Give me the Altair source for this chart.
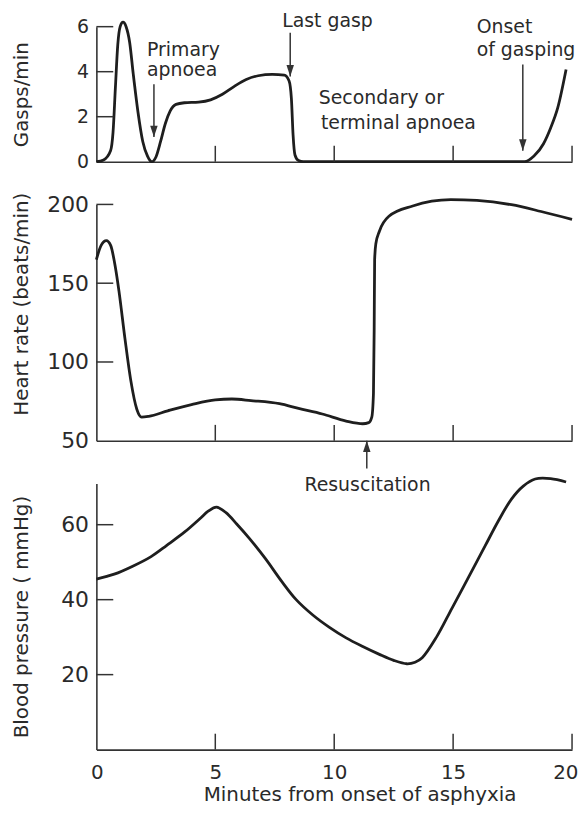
import altair as alt
import pandas as pd

# ---------------- data ----------------
# Gasps/min vs minutes
gasp_t = [0, 0.3, 0.6, 0.7, 0.8, 0.9, 1.0, 1.12, 1.25, 1.4, 1.55, 1.75, 1.95, 2.15, 2.33,
          2.5, 2.7, 2.9, 3.1, 3.35, 3.7, 4.3, 4.8, 5.3, 5.8, 6.3, 6.8, 7.4, 7.9, 8.1, 8.2,
          8.27, 8.35, 8.5, 8.7, 10, 12, 14, 16, 18.0, 18.4, 18.8, 19.1, 19.4, 19.75]
gasp_v = [0, 0.08, 0.5, 1.3, 3.3, 5.2, 6.0, 6.2, 6.0, 5.3, 3.9, 2.2, 0.9, 0.25, 0.0,
          0.2, 0.9, 1.7, 2.25, 2.55, 2.62, 2.65, 2.75, 3.0, 3.35, 3.65, 3.82, 3.88, 3.85, 3.6, 2.8,
          1.2, 0.3, 0.05, 0, 0, 0, 0, 0, 0, 0.25, 0.8, 1.5, 2.4, 4.1]

# Heart rate (beats/min) vs minutes
hr_t = [0, 0.2, 0.42, 0.6, 0.8, 0.95, 1.2, 1.45, 1.7, 1.9, 2.2, 3, 4, 5, 5.7, 6.5, 7.7, 8.5,
        9.5, 10.5, 11.2, 11.45, 11.58, 11.65, 11.68, 11.7, 11.75, 11.9, 12.3, 13.3, 14.9, 16,
        17.45, 18.7, 20]
hr_v = [165, 174, 177, 174, 160, 145, 115, 88, 70, 65, 65.5, 69, 73, 76, 76.5, 75.5, 73.5, 70.5,
        67, 62.5, 60.8, 61.5, 65, 80, 120, 165, 175, 183, 192.5, 199, 203, 202.5,
        199.8, 195.5, 190.5]

# Blood pressure (mmHg) vs minutes
bp_t = [0, 0.75, 1.55, 2.3, 2.96, 3.7, 4.35, 4.7, 5.05, 5.45, 5.9, 6.44, 7.1, 7.8, 8.4, 9.1,
        9.8, 10.5, 11.2, 11.9, 12.5, 13.05, 13.4, 13.7, 14.3, 14.95, 15.65, 16.35, 16.9, 17.46,
        17.95, 18.45, 19.1, 19.75]
bp_v = [45.5, 46.8, 49, 51.5, 54.5, 58, 61.6, 63.6, 64.7, 63.2, 60.2, 56.3, 51, 44.8, 40.0, 35.9,
        32.6, 29.8, 27.5, 25.4, 23.8, 22.9, 23.3, 24.5, 30, 37.7, 46, 54.4, 61, 66.9,
        70.3, 72.2, 72.3, 71.4]

# axes
x_domain = [0, 20]
x_ticks = [5, 10, 15, 20]
x_labels = [0, 5, 10, 15, 20]
gasp_domain = [0, 6]
gasp_labels = [0, 2, 4, 6]
gasp_ticks = [2, 4, 6]
hr_domain = [50, 200]
hr_labels = [50, 100, 150, 200]
hr_ticks = [100, 150, 200]
bp_domain = [0, 71]
bp_labels = [20, 40, 60]
bp_ticks = [20, 40, 60]

# annotations
ann1_t = [2.13, 2.13, 7.81, 15.99, 15.99, 9.35, 9.44]
ann1_v = [4.68, 3.79, 6.0, 5.70, 4.68, 2.56, 1.46]
ann1_text = ["Primary", "apnoea", "Last gasp", "Onset", "of gasping",
             "Secondary or", "terminal apnoea"]
arr1_t = [2.42, 8.15, 17.93]
arr1_from = [3.44, 5.73, 4.32]
arr1_to = [1.10, 3.79, 0.49]

ann3_t = [11.4]
ann3_v = [68.9]
ann3_text = ["Resuscitation"]
arr3_t = [11.37]
arr3_from = [75.0]
arr3_to = [82.4]

# ---------------- style ----------------
W = 479
H1, H2, H3 = 136, 238, 268
SP = 43
FONT = "DejaVu Sans"
INK = "#1e1e1e"
AX = "#333333"
TXT = "#2a2a2a"
DOWN = "M-0.33,-1L0,0L0.33,-1Z"
UP = "M-0.33,1L0,0L0.33,1Z"

xs = alt.Scale(domain=x_domain, nice=False, zero=False)


def panel(line_df, yscale, xaxis, yaxis, yticks, h, interp, arrows=None, texts=None):
    X = lambda f: alt.X(f, scale=xs, axis=xaxis)
    Y = lambda f: alt.Y(f, scale=yscale, axis=yaxis)
    layers = []
    layers.append(alt.Chart(line_df).mark_line(
        interpolate=interp, color=INK, strokeWidth=2.8).encode(x=X("t:Q"), y=Y("v:Q")))
    layers.append(alt.Chart(pd.DataFrame({"v": yticks})).mark_rule(
        color=AX, strokeWidth=1.5).encode(y=Y("v:Q"), x=alt.value(0), x2=alt.value(17)))
    layers.append(alt.Chart(pd.DataFrame({"t": x_ticks})).mark_rule(
        color=AX, strokeWidth=1.5).encode(x=X("t:Q"), y=alt.value(h), y2=alt.value(h - 16)))
    if arrows is not None:
        df, shape = arrows
        layers.append(alt.Chart(df).mark_rule(color=AX, strokeWidth=1.5).encode(
            x=X("t:Q"), y=Y("v0:Q"), y2="v1:Q"))
        layers.append(alt.Chart(df).mark_point(shape=shape, filled=True, size=520, opacity=1,
                                               color=AX, strokeWidth=0).encode(
            x=X("t:Q"), y=Y("v1:Q")))
    if texts is not None:
        df, align = texts
        layers.append(alt.Chart(df).mark_text(align=align, baseline="alphabetic", font=FONT,
                                              fontSize=19, color=TXT).encode(
            x=X("t:Q"), y=Y("v:Q"), text="label:N"))
    return alt.layer(*layers)


x_axis_hidden = alt.Axis(labels=False, ticks=False, title=None, grid=False)

# ---------------- panel 1 ----------------
y1 = alt.Scale(domain=gasp_domain, nice=False, zero=False)
ax_y1 = alt.Axis(values=gasp_labels, ticks=False, tickSize=0, labelPadding=8, labelFontSize=19,
                 labelFlush=False, title="Gasps/min", titleX=-75, titleBaseline="middle",
                 titleFontSize=20, grid=False)
p1 = panel(pd.DataFrame({"t": gasp_t, "v": gasp_v}), y1, x_axis_hidden, ax_y1, gasp_ticks, H1,
           "monotone",
           arrows=(pd.DataFrame({"t": arr1_t, "v0": arr1_from, "v1": arr1_to}), DOWN),
           texts=(pd.DataFrame({"t": ann1_t, "v": ann1_v, "label": ann1_text}), "left")
           ).properties(width=W, height=H1)

# ---------------- panel 2 ----------------
y2 = alt.Scale(domain=hr_domain, nice=False, zero=False)
ax_y2 = alt.Axis(values=hr_labels, ticks=False, tickSize=0, labelPadding=8, labelFontSize=22,
                 labelFlush=False, title="Heart rate (beats/min)", titleX=-75, titleY=100,
                 titleBaseline="middle", titleFontSize=20, grid=False)
p2 = panel(pd.DataFrame({"t": hr_t, "v": hr_v}), y2, x_axis_hidden, ax_y2, hr_ticks, H2,
           "monotone").properties(width=W, height=H2)

# ---------------- panel 3 ----------------
y3 = alt.Scale(domain=bp_domain, nice=False, zero=False)
ax_x3 = alt.Axis(values=x_labels, ticks=False, tickSize=0, labelPadding=13, labelFontSize=20,
                 labelFlush=True, labelFlushOffset=6, title="Minutes from onset of asphyxia",
                 titleX=265, titleY=51, titleBaseline="alphabetic", titleFontSize=20,
                 grid=False)
ax_y3 = alt.Axis(values=bp_labels, ticks=False, tickSize=0, labelPadding=8, labelFontSize=22,
                 labelFlush=False, title="Blood pressure ( mmHg)", titleX=-75,
                 titleBaseline="middle", titleFontSize=20, grid=False)
p3 = panel(pd.DataFrame({"t": bp_t, "v": bp_v}), y3, ax_x3, ax_y3, bp_ticks, H3,
           "catmull-rom",
           arrows=(pd.DataFrame({"t": arr3_t, "v0": arr3_from, "v1": arr3_to}), UP),
           texts=(pd.DataFrame({"t": ann3_t, "v": ann3_v, "label": ann3_text}), "center")
           ).properties(width=W, height=H3)

chart = alt.vconcat(p1, p2, p3, spacing=SP, bounds="flush").resolve_scale(
    y="independent").properties(
    padding={"left": 3, "top": 1, "right": 0, "bottom": 0},
    background="white").configure_view(stroke=None).configure_axis(
    domainColor=AX, domainWidth=1.6, labelColor=TXT, titleColor=TXT,
    labelFont=FONT, titleFont=FONT, titleFontWeight="normal")

chart.save("out.html", embed_options={"renderer": "svg", "actions": False})
